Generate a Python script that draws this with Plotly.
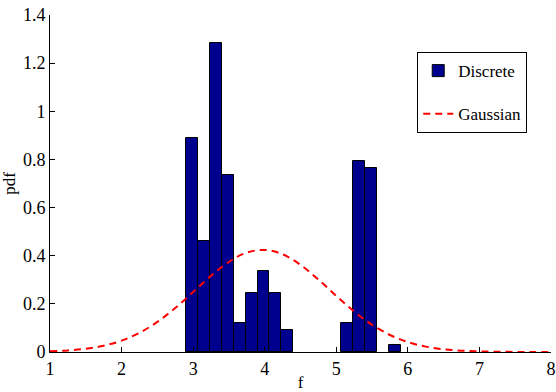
import plotly.graph_objects as go

# Discrete histogram (pdf), bins of width 1/6
BIN_CENTERS = [2.983, 3.150, 3.317, 3.483, 3.650, 3.817, 3.983, 4.150, 4.317,
               5.150, 5.317, 5.483, 5.817]
BIN_HEIGHTS = [0.89, 0.46, 1.285, 0.735, 0.12, 0.245, 0.335, 0.245, 0.09,
               0.12, 0.795, 0.765, 0.03]
BIN_WIDTH = 1 / 6

# Gaussian curve, values
GAUSS_X = [1.0, 1.25, 1.5, 1.75, 2.0, 2.25, 2.5, 2.75, 3.0, 3.25, 3.5, 3.75,
           4.0, 4.25, 4.5, 4.75, 5.0, 5.25, 5.5, 5.75, 6.0, 6.25, 6.5, 6.75,
           7.0, 7.25, 7.5, 7.75, 8.0]
GAUSS_Y = [0.0029, 0.0065, 0.0135, 0.0261, 0.0472, 0.0796, 0.125, 0.183,
           0.249, 0.3165, 0.3745, 0.413, 0.424, 0.406, 0.362, 0.301, 0.233,
           0.168, 0.113, 0.0707, 0.0412, 0.0224, 0.0113, 0.0054, 0.0024,
           0.0010, 0.0004, 0.0001, 0.0]

X_TICKS = [1, 2, 3, 4, 5, 6, 7, 8]
X_TICK_TEXT = ["1", "2", "3", "4", "5", "6", "7", "8"]
Y_TICKS = [0, 0.2, 0.4, 0.6, 0.8, 1, 1.2, 1.4]
Y_TICK_TEXT = ["0", "0.2", "0.4", "0.6", "0.8", "1", "1.2", "1.4"]

FONT = "Liberation Serif"

fig = go.Figure()
fig.add_trace(go.Bar(
    x=BIN_CENTERS, y=BIN_HEIGHTS, width=[BIN_WIDTH] * len(BIN_CENTERS),
    name="Discrete", marker=dict(color="#00008F", line=dict(color="black", width=1)),
    legendgroup="a",
))
fig.add_trace(go.Scatter(
    x=GAUSS_X, y=GAUSS_Y, mode="lines", name="Gaussian",
    line=dict(color="#FF0000", width=2, dash="7px,5px", shape="spline"),
    legendgroup="b",
))

fig.update_layout(
    width=556, height=392, autosize=False,
    margin=dict(l=50, r=5, t=15, b=40, autoexpand=False),
    paper_bgcolor="white", plot_bgcolor="white",
    font=dict(family=FONT, size=17, color="black"),
    showlegend=True,
    legend=dict(
        x=0.733, y=0.89, xanchor="left", yanchor="top",
        bgcolor="white", bordercolor="black", borderwidth=1,
        font=dict(family=FONT, size=17, color="black"),
        tracegroupgap=18, traceorder="grouped",
    ),
    bargap=0,
)
fig.update_xaxes(
    range=[1, 8], tickmode="array", tickvals=X_TICKS, ticktext=X_TICK_TEXT,
    ticks="inside", ticklen=5, tickcolor="black", showline=True,
    linecolor="black", linewidth=1, showgrid=False, zeroline=False,
    automargin=False,
    title_text="f", title_standoff=2, title_font_size=17,
    tickfont_family=FONT, tickfont_size=18, tickfont_color="black",
)
fig.update_yaxes(
    range=[0, 1.4], tickmode="array", tickvals=Y_TICKS, ticktext=Y_TICK_TEXT,
    ticks="inside", ticklen=5, tickcolor="black", showline=True,
    linecolor="black", linewidth=1, showgrid=False, zeroline=False,
    automargin=False,
    title_text="pdf", title_standoff=2, title_font_size=17,
    tickfont_family=FONT, tickfont_size=18, tickfont_color="black",
)

fig.write_html("out.html")
